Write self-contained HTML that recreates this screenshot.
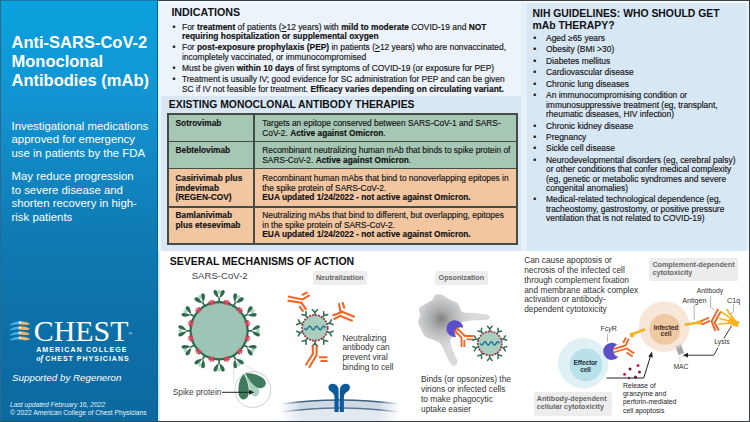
<!DOCTYPE html>
<html><head><meta charset="utf-8">
<style>
*{margin:0;padding:0;box-sizing:border-box}
html,body{width:750px;height:422px;overflow:hidden;background:#fff}
body{position:relative;font-family:"Liberation Sans",sans-serif;color:#1a1a1a}
.a{position:absolute}
#left{left:0;top:0;width:158px;height:422px;background:linear-gradient(180deg,#0aa2de 0%,#1393d1 25%,#0f7bb4 55%,#0d6ea6 80%,#0c699f 100%);color:#fff}
#frame{left:0;top:0;width:750px;height:422px;border:1px solid #3b4046;border-left-color:#2a6a8c}
.title{left:11.5px;top:32.5px;font-size:16.5px;font-weight:bold;line-height:19px;white-space:nowrap}
.body1{left:12px;font-size:11.4px;line-height:12.8px;white-space:nowrap}
#ind{left:158px;top:0;width:363px;height:96px;background:#edf3fa}
#ther{left:158px;top:96px;width:363px;height:155px;background:#d9e7f4}
#strip{left:158px;top:0;width:3px;height:251px;background:#e9f3fb}
#gap{left:521px;top:0;width:6px;height:251px;background:#e6f0f8}
#nih{left:527px;top:0;width:223px;height:251px;background:#d8e7f4}
.h{font-weight:bold;font-size:10.4px;white-space:nowrap;color:#111}
.bl{font-size:8.35px;line-height:9.9px;color:#151515;white-space:nowrap;-webkit-text-stroke:0.15px #151515}
.bl li{list-style:none;position:relative;padding-left:0}
.bl li:before{content:"\2022";position:absolute;left:-9.5px;top:0}
.bl li+li{margin-top:1px}
.nih li+li{margin-top:2.2px}
.ind li+li{margin-top:1.5px}
.nih li:before{left:-12.8px}
b{font-weight:bold;color:#111}
.ln{background:#444c48}
.tn,.td{font-size:8.35px;line-height:9.6px;white-space:nowrap;color:#151515;-webkit-text-stroke:0.15px #151515}
.tn{font-weight:bold;color:#151515}
#tbl{left:167.5px;top:113.5px;width:350px;border:1.6px solid #3c4340}
#tbl td{white-space:nowrap;border:1.3px solid #3c4340;vertical-align:top;font-size:8.35px;line-height:9.9px;padding:3px 4px 0 8px}
#tbl tr.g td{background:#a7c7b5}
#tbl tr.o td{background:#f1c6a1}
#tbl td.n{width:87px;font-weight:bold;color:#111}
.lbl{background:#ededed;border-radius:2px;color:#686868;font-weight:bold;font-size:7.2px;line-height:8.5px;white-space:nowrap}
.gt{font-size:8.35px;line-height:9.9px;color:#333;white-space:nowrap}
</style></head><body>
<div id="left" class="a">
  <div class="a title">Anti-SARS-CoV-2<br>Monoclonal<br>Antibodies (mAb)</div>
  <div class="a body1" style="top:120.2px;left:11.5px;line-height:13.2px">Investigational medications<br>approved for emergency<br>use in patients by the FDA</div>
  <div class="a body1" style="top:170.2px;left:11.5px;line-height:13.5px">May reduce progression<br>to severe disease and<br>shorten recovery in high-<br>risk patients</div>
  <svg class="a" style="left:0;top:0" width="158" height="422" viewBox="0 0 158 422">
    <g><path d="M9.3,325.3 C12,322.6 15.5,321.4 19,321.8 L19,324.2 C15.5,324.2 12,324.9 9.3,325.3Z" fill="#46b3ea"/><path d="M18.8,321.3 C23,321.0 27.5,321.8 30,323.9 C27.5,325.4 23,324.8 18.8,324.3Z" fill="#f2b66b"/><path d="M18.6,321.6 C19.8,321.5 20.8,322.0 21.4,322.9 C20.3,323.4 19.4,323.4 18.6,323.1Z" fill="#e8f6fc"/><path d="M9.3,330.4 C12,327.7 15.5,326.5 19,326.9 L19,329.3 C15.5,329.3 12,330.0 9.3,330.4Z" fill="#46b3ea"/><path d="M18.8,326.4 C23,326.1 27.5,326.9 30,329.0 C27.5,330.5 23,329.9 18.8,329.4Z" fill="#f2b66b"/><path d="M18.6,326.7 C19.8,326.6 20.8,327.1 21.4,328.0 C20.3,328.5 19.4,328.5 18.6,328.2Z" fill="#e8f6fc"/><path d="M9.3,335.5 C12,332.8 15.5,331.6 19,332.0 L19,334.4 C15.5,334.4 12,335.1 9.3,335.5Z" fill="#46b3ea"/><path d="M18.8,331.5 C23,331.2 27.5,332.0 30,334.1 C27.5,335.6 23,335.0 18.8,334.5Z" fill="#f2b66b"/><path d="M18.6,331.8 C19.8,331.7 20.8,332.2 21.4,333.1 C20.3,333.6 19.4,333.6 18.6,333.3Z" fill="#e8f6fc"/><path d="M9.3,340.6 C12,337.9 15.5,336.7 19,337.1 L19,339.5 C15.5,339.5 12,340.2 9.3,340.6Z" fill="#46b3ea"/><path d="M18.8,336.6 C23,336.3 27.5,337.1 30,339.2 C27.5,340.7 23,340.1 18.8,339.6Z" fill="#f2b66b"/><path d="M18.6,336.9 C19.8,336.8 20.8,337.3 21.4,338.2 C20.3,338.7 19.4,338.7 18.6,338.4Z" fill="#e8f6fc"/></g>
  </svg>
  <div class="a" style="left:33.8px;top:315.8px;font-family:'Liberation Serif',serif;font-size:29.9px;line-height:30px;white-space:nowrap">CHEST<span style="font-size:5px;vertical-align:top;position:relative;top:3px">&#174;</span></div>
  <div class="a" style="left:36.2px;top:346.2px;font-size:7px;font-weight:bold;line-height:8px;letter-spacing:1.12px;white-space:nowrap">AMERICAN COLLEGE</div>
  <div class="a" style="left:36.5px;top:355.2px;font-size:7px;font-weight:bold;line-height:8px;letter-spacing:1px;white-space:nowrap"><span style="font-family:'Liberation Serif',serif;font-style:italic;font-size:8px;letter-spacing:0">of </span>CHEST PHYSICIANS</div>
  <div class="a" style="left:12px;top:372px;font-size:9.8px;line-height:11px;font-style:italic;white-space:nowrap">Supported by Regeneron</div>
  <div class="a" style="left:10px;top:400.8px;font-size:6.7px;line-height:7.4px;font-style:italic;white-space:nowrap;color:#e8f2f8">Last updated February 16, 2022</div>
  <div class="a" style="left:10px;top:408.6px;font-size:6.7px;line-height:7.4px;white-space:nowrap;color:#e8f2f8">&#169; 2022 American College of Chest Physicians</div>
</div>
<div id="ind" class="a"></div>
<div id="ther" class="a"></div>
<div id="strip" class="a"></div><div class="a" style="left:158px;top:251px;width:2px;height:171px;background:#d3eef8"></div><div class="a" style="left:157px;top:0;width:1px;height:422px;background:#0b5f8f"></div>
<div id="gap" class="a"></div>
<div id="nih" class="a"></div><div class="a" style="left:746px;top:0;width:3px;height:251px;background:#e6eff7"></div><div class="a" style="left:158px;top:1px;width:591px;height:1.5px;background:#f6f9fc"></div>

<div class="a h" style="left:171.4px;top:5.9px;font-size:10.7px">INDICATIONS</div>
<ul class="a bl ind" style="left:182px;top:22.8px;width:335px;font-size:8.42px;line-height:9.6px">
<li>For <b>treatment</b> of patients (<u style="text-decoration-thickness:0.8px;text-underline-offset:0.5px">&gt;</u>12 years) with <b>mild to moderate</b> COVID-19 and <b>NOT<br>requiring hospitalization or supplemental oxygen</b></li>
<li>For <b>post-exposure prophylaxis (PEP)</b> in patients (<u style="text-decoration-thickness:0.8px;text-underline-offset:0.5px">&gt;</u>12 years) who are nonvaccinated,<br>incompletely vaccinated, or immunocompromised</li>
<li>Must be given <b>within 10 days</b> of first symptoms of COVID-19 (or exposure for PEP)</li>
<li>Treatment is usually IV; good evidence for SC administration for PEP and can be given<br>SC if IV not feasible for treatment. <b>Efficacy varies depending on circulating variant.</b></li>
</ul>

<div class="a h" style="left:168.8px;top:99px">EXISTING MONOCLONAL ANTIBODY THERAPIES</div>
<div class="a" style="left:167px;top:113px;width:351px;height:131.6px;background:#a7c7b5"></div>
<div class="a" style="left:167px;top:168px;width:351px;height:76.6px;background:#f1c6a1"></div>
<div class="a ln" style="left:167px;top:113px;width:351px;height:2px"></div>
<div class="a ln" style="left:167px;top:140.5px;width:351px;height:1.6px"></div>
<div class="a ln" style="left:167px;top:167.6px;width:351px;height:1.6px"></div>
<div class="a ln" style="left:167px;top:206px;width:351px;height:1.6px"></div>
<div class="a ln" style="left:167px;top:243px;width:351px;height:1.6px"></div>
<div class="a ln" style="left:167px;top:113px;width:1.6px;height:132px"></div>
<div class="a ln" style="left:253.4px;top:113px;width:1.6px;height:132px"></div>
<div class="a ln" style="left:516px;top:113px;width:1.6px;height:132px"></div>
<div class="a tn" style="left:175.5px;top:119px">Sotrovimab</div>
<div class="a tn" style="left:175.5px;top:146px">Bebtelovimab</div>
<div class="a tn" style="left:175.5px;top:174px">Casirivimab plus<br>imdevimab<br>(REGEN-COV)</div>
<div class="a tn" style="left:175.5px;top:211px">Bamlanivimab<br>plus etesevimab</div>
<div class="a td" style="left:262.3px;top:119px">Targets an epitope conserved between SARS-CoV-1 and SARS-<br>CoV-2. <b>Active against Omicron</b>.</div>
<div class="a td" style="left:262.3px;top:146px">Recombinant neutralizing human mAb that binds to spike protein of<br>SARS-CoV-2. <b>Active against Omicron</b>.</div>
<div class="a td" style="left:262.3px;top:174px">Recombinant human mAbs that bind to nonoverlapping epitopes in<br>the spike protein of SARS-CoV-2.<br><b>EUA updated 1/24/2022 - not active against Omicron.</b></div>
<div class="a td" style="left:262.3px;top:211px">Neutralizing mAbs that bind to different, but overlapping, epitopes<br>in the spike protein of SARS-CoV-2.<br><b>EUA updated 1/24/2022 - not active against Omicron.</b></div>

<div class="a h" style="left:532.5px;top:7.7px;line-height:12.3px">NIH GUIDELINES: WHO SHOULD GET<br>mAb THERAPY?</div>
<ul class="a bl nih" style="left:546px;top:34px;width:200px;font-size:8.45px;line-height:9.3px">
<li>Aged &#8805;65 years</li>
<li>Obesity (BMI &gt;30)</li>
<li>Diabetes mellitus</li>
<li>Cardiovascular disease</li>
<li>Chronic lung diseases</li>
<li>An immunocompromising condition or<br>immunosuppressive treatment (eg, transplant,<br>rheumatic diseases, HIV infection)</li>
<li>Chronic kidney disease</li>
<li>Pregnancy</li>
<li>Sickle cell disease</li>
<li>Neurodevelopmental disorders (eg, cerebral palsy)<br>or other conditions that confer medical complexity<br>(eg, genetic or metabolic syndromes and severe<br>congenital anomalies)</li>
<li>Medical-related technological dependence (eg,<br>tracheostomy, gastrostomy, or positive pressure<br>ventilation that is not related to COVID-19)</li>
</ul>

<div class="a h" style="left:169.8px;top:254.5px;font-size:10.5px">SEVERAL MECHANISMS OF ACTION</div>
<div class="a" style="left:191.7px;top:269.8px;font-size:9.6px;color:#444;white-space:nowrap">SARS-CoV-2</div>
<div class="a lbl" style="left:313px;top:270.5px;width:53.7px;height:14.3px;padding:3.3px 0 0 2.9px">Neutralization</div>
<div class="a gt" style="left:342.4px;top:333.5px">Neutralizing<br>antibody can<br>prevent viral<br>binding to cell</div>
<div class="a lbl" style="left:435.2px;top:271.2px;width:52.6px;height:14px;padding:3.2px 0 0 3.4px">Opsonization</div>
<div class="a gt" style="left:421px;top:374.8px">Binds (or opsonizes) the<br>virions or infected cells<br>to make phagocytic<br>uptake easier</div>
<div class="a gt" style="left:524.2px;top:255.8px">Can cause apoptosis or<br>necrosis of the infected cell<br>through complement fixation<br>and membrane attack complex<br>activation or antibody-<br>dependent cytotoxicity</div>
<div class="a lbl" style="left:648.8px;top:258.2px;width:89px;height:22.4px;padding:2.8px 0 0 3.6px">Complement-dependent<br>cytotoxicity</div>
<div class="a lbl" style="left:533.6px;top:391.6px;width:78.4px;height:24px;padding:3.2px 0 0 3.2px">Antibody-dependent<br>cellular cytotoxicity</div>

<svg class="a" style="left:0;top:0" width="750" height="422" viewBox="0 0 750 422">
<defs>
 <g id="spike">
  <path d="M0,-28 V-33" stroke="#2f6a4f" stroke-width="1.7"/>
  <circle cx="0" cy="-38.8" r="2.1" fill="#b3d9c5"/>
  <path d="M-0.4,-32.5 C-2.5,-34 -5.8,-36.5 -5.6,-39.2 C-5.4,-41.2 -3,-41.3 -2.2,-39.6 C-1.4,-37.6 -0.6,-35 -0.4,-32.5Z" fill="#2f6a4f"/>
  <path d="M0.4,-32.5 C2.5,-34 5.8,-36.5 5.6,-39.2 C5.4,-41.2 3,-41.3 2.2,-39.6 C1.4,-37.6 0.6,-35 0.4,-32.5Z" fill="#2f6a4f"/>
 </g>
 <g id="redf" fill="#d8455b">
  <circle cx="0" cy="-29" r="1.5"/><circle cx="-1.9" cy="-30.2" r="1.1"/><circle cx="1.9" cy="-30.2" r="1.1"/><circle cx="-1.6" cy="-27.6" r="1.1"/><circle cx="1.6" cy="-27.6" r="1.1"/><circle cx="0" cy="-31.3" r="0.9"/>
 </g>
 <g id="sspike" stroke="#357257" stroke-width="1.6" fill="none" stroke-linecap="round">
  <path d="M0,-13 V-15 M-2.4,-17.8 L0,-15 L2.4,-17.8"/>
 </g>
 <g id="ab" fill="none" stroke="#f26524" stroke-width="1.9">
  <path d="M-1.9,-9.5 V1 L-8.6,12.5"/>
  <path d="M1.9,-9.5 V2.5 L-5.2,14.3"/>
  <path d="M3.5,2.3 H12.7 M5.2,6.3 H12.7"/>
 </g>
 <radialGradient id="mg" gradientUnits="userSpaceOnUse" cx="441" cy="319" r="30">
  <stop offset="0" stop-color="#7f8183"/><stop offset="0.3" stop-color="#a9abad"/><stop offset="0.7" stop-color="#cbcdcf"/><stop offset="1" stop-color="#d9dadb"/>
 </radialGradient>
 <linearGradient id="memb" x1="0" y1="0" x2="1" y2="0">
  <stop offset="0" stop-color="#fff" stop-opacity="0"/><stop offset="0.18" stop-color="#fff" stop-opacity="1"/><stop offset="0.82" stop-color="#fff" stop-opacity="1"/><stop offset="1" stop-color="#fff" stop-opacity="0"/>
 </linearGradient>
 <mask id="mm"><rect x="280" y="380" width="120" height="42" fill="url(#memb)"/></mask>
</defs>
<!-- big virus -->
<circle cx="219.1" cy="330.8" r="28.6" fill="#9cc5b6" stroke="#2f6a4f" stroke-width="2.2"/>
<use href="#spike" transform="translate(219.1,330.8) rotate(0)"/>
<use href="#spike" transform="translate(219.1,330.8) rotate(30)"/>
<use href="#spike" transform="translate(219.1,330.8) rotate(60)"/>
<use href="#spike" transform="translate(219.1,330.8) rotate(90)"/>
<use href="#spike" transform="translate(219.1,330.8) rotate(120)"/>
<use href="#spike" transform="translate(219.1,330.8) rotate(150)"/>
<use href="#spike" transform="translate(219.1,330.8) rotate(180)"/>
<use href="#spike" transform="translate(219.1,330.8) rotate(210)"/>
<use href="#spike" transform="translate(219.1,330.8) rotate(240)"/>
<use href="#spike" transform="translate(219.1,330.8) rotate(270)"/>
<use href="#spike" transform="translate(219.1,330.8) rotate(300)"/>
<use href="#spike" transform="translate(219.1,330.8) rotate(330)"/>
<use href="#redf" transform="translate(219.1,330.8) rotate(15)"/>
<use href="#redf" transform="translate(219.1,330.8) rotate(45)"/>
<use href="#redf" transform="translate(219.1,330.8) rotate(75)"/>
<use href="#redf" transform="translate(219.1,330.8) rotate(105)"/>
<use href="#redf" transform="translate(219.1,330.8) rotate(135)"/>
<use href="#redf" transform="translate(219.1,330.8) rotate(165)"/>
<use href="#redf" transform="translate(219.1,330.8) rotate(195)"/>
<use href="#redf" transform="translate(219.1,330.8) rotate(225)"/>
<use href="#redf" transform="translate(219.1,330.8) rotate(255)"/>
<use href="#redf" transform="translate(219.1,330.8) rotate(285)"/>
<use href="#redf" transform="translate(219.1,330.8) rotate(315)"/>
<use href="#redf" transform="translate(219.1,330.8) rotate(345)"/>
<!-- spike protein inset -->
<path d="M233.7,363 V383" stroke="#aaa" stroke-width="0.8" stroke-dasharray="1 1.2" fill="none"/>
<path d="M241.6,364 L266,376" stroke="#bbb" stroke-width="0.8" stroke-dasharray="1 1.2" fill="none"/>
<circle cx="252.8" cy="389.6" r="17.9" fill="#fff" stroke="#c9c9c9" stroke-width="0.9"/>
<path d="M244.5,374.5 C249,380 254,385 257.5,387 C260,389 260,395.5 255.5,396.5 C252,397 250,392 249.5,388 C248.5,383 247,378 244.5,374.5Z" fill="#a6d1bb"/>
<path d="M245,373.5 C252,372.5 261.5,375.5 265,380.5 C267.5,385 263.5,389.5 258,387.8 C253.5,386 249,380.5 245,373.5Z" fill="#3f7b5d"/>
<path d="M244,374 C239,378 237.5,388 238.8,395 C240.3,400.2 245.2,400.8 247.6,397 C249.8,392 249.2,384 244,374Z" fill="#3f7b5d"/>
<text x="172.7" y="395" font-size="8.35" fill="#444">Spike protein</text>
<path d="M222,392.3 H250" stroke="#222" stroke-width="1"/>
<path d="M254.2,392.3 L249,389.8 L249,394.8Z" fill="#222"/>
<!-- neutralization -->
<circle cx="314.9" cy="327.9" r="12.8" fill="#a9cdbf" stroke="#a8364a" stroke-width="1.8" stroke-dasharray="2 1"/>
<use href="#sspike" transform="translate(314.9,327.9) rotate(0.0) scale(1.024)"/>
<use href="#sspike" transform="translate(314.9,327.9) rotate(36.0) scale(1.024)"/>
<use href="#sspike" transform="translate(314.9,327.9) rotate(72.0) scale(1.024)"/>
<use href="#sspike" transform="translate(314.9,327.9) rotate(108.0) scale(1.024)"/>
<use href="#sspike" transform="translate(314.9,327.9) rotate(144.0) scale(1.024)"/>
<use href="#sspike" transform="translate(314.9,327.9) rotate(180.0) scale(1.024)"/>
<use href="#sspike" transform="translate(314.9,327.9) rotate(216.0) scale(1.024)"/>
<use href="#sspike" transform="translate(314.9,327.9) rotate(252.0) scale(1.024)"/>
<use href="#sspike" transform="translate(314.9,327.9) rotate(288.0) scale(1.024)"/>
<use href="#sspike" transform="translate(314.9,327.9) rotate(324.0) scale(1.024)"/>
<polyline points="304.40,327.90 304.75,328.46 305.10,328.96 305.45,329.36 305.80,329.61 306.15,329.70 306.50,329.61 306.85,329.36 307.20,328.96 307.55,328.46 307.90,327.90 308.25,327.34 308.60,326.84 308.95,326.44 309.30,326.19 309.65,326.10 310.00,326.19 310.35,326.44 310.70,326.84 311.05,327.34 311.40,327.90 311.75,328.46 312.10,328.96 312.45,329.36 312.80,329.61 313.15,329.70 313.50,329.61 313.85,329.36 314.20,328.96 314.55,328.46 314.90,327.90 315.25,327.34 315.60,326.84 315.95,326.44 316.30,326.19 316.65,326.10 317.00,326.19 317.35,326.44 317.70,326.84 318.05,327.34 318.40,327.90 318.75,328.46 319.10,328.96 319.45,329.36 319.80,329.61 320.15,329.70 320.50,329.61 320.85,329.36 321.20,328.96 321.55,328.46 321.90,327.90 322.25,327.34 322.60,326.84 322.95,326.44 323.30,326.19 323.65,326.10 324.00,326.19 324.35,326.44 324.70,326.84 325.05,327.34 325.40,327.90" fill="none" stroke="#1f7394" stroke-width="1.4"/>
<g fill="none" stroke="#f26524" stroke-width="2.1" stroke-linecap="butt">
 <path d="M288,296.5 L302.5,299.5 L309.7,295.1 M301.8,295.1 L307.5,292.3 M287.6,300.6 L301.5,302.8 L306.5,309.8 M299.3,306.1 L303.3,311.5"/>
 <path d="M332.5,315.6 L340.6,312.5 L338.9,303.2 M342.4,302.1 L344.5,308.5 M340.9,311.3 L354.9,317 M333.5,319.2 L340.3,315.8 L352.7,321"/>
 <path d="M312.8,345.4 V354 L305.7,365.3 M316.6,345.4 V355 L309,367.7 M319,357.3 H327.5 M320.4,361 H327.5"/>
</g>
<!-- membrane -->
<g mask="url(#mm)">
 <path d="M282,404 Q339,396 398,404 V421 H282Z" fill="#e3e9f0"/>
 <path d="M282,405 Q339,397 398,405 L398,412 Q339,404 282,412Z" fill="#cfd9e5"/>
 <path d="M282,404 Q339,396 398,404" stroke="#3f5d7d" stroke-width="1.5" fill="none"/>
 <path d="M282,412 Q339,404 398,412" stroke="#5d7894" stroke-width="1.3" fill="none"/>
</g>
<g fill="#0d5a99"><path d="M334.5,412 V397.5 C334.5,394.5 333.2,393 331.2,391.8 C328.2,390 327.6,386.5 329.6,384.8 C332,382.8 336.8,383.6 338.2,387.8 C338.8,390 338.6,393.5 338.6,396.5 V412Z"/><path d="M343.9,412.0  V397.5  C343.9,394.5 345.2,393.0 347.2,391.8  C350.2,390.0 350.8,386.5 348.8,384.8  C346.4,382.8 341.6,383.6 340.2,387.8  C339.6,390.0 339.8,393.5 339.8,396.5  V412.0  Z"/></g>
<!-- opsonization macrophage -->
<path d="M438.2,294.1 C439.9,294.1 442.3,295.1 444.3,296.1 C446.3,297.1 448.1,298.9 450.3,300.1 C452.5,301.3 455.7,301.6 457.4,303.1 C459.1,304.6 459.4,307.7 460.4,309.2 C461.4,310.7 460.7,311.5 463.4,312.2 C466.1,312.9 472.5,312.8 476.5,313.2 C480.5,313.6 485.4,314.1 487.6,314.8 C489.8,315.6 489.8,316.9 489.6,317.7 C489.4,318.5 489.1,319.3 486.6,319.7 C484.1,320.1 477.9,320.0 474.5,320.3 C471.1,320.6 468.7,320.8 466.5,321.3 C464.3,321.8 463.1,321.0 461.4,323.3 C459.7,325.6 458.2,332.7 456.4,335.4 C454.5,338.1 450.8,336.7 450.3,339.4 C449.8,342.1 452.1,347.8 453.3,351.5 C454.5,355.2 457.0,359.2 457.4,361.6 C457.8,364.0 456.4,365.1 455.4,365.6 C454.4,366.1 453.0,366.6 451.3,364.6 C449.6,362.6 447.2,357.0 445.3,353.5 C443.4,350.0 442.4,345.9 440.2,343.5 C438.0,341.1 434.7,340.6 432.2,339.4 C429.7,338.2 427.0,338.1 425.1,336.4 C423.2,334.7 422.3,331.8 421.1,329.4 C419.9,327.0 418.3,324.7 418.1,322.3 C417.9,319.9 419.9,317.6 420.1,315.2 C420.3,312.8 418.3,310.0 419.1,308.2 C419.9,306.4 422.9,305.5 425.1,304.2 C427.3,302.9 430.7,301.5 432.2,300.1 C433.7,298.8 433.2,297.1 434.2,296.1 C435.2,295.1 436.5,294.1 438.2,294.1Z" fill="url(#mg)"/>
<path d="M463.16,327.77 A8.4,8.4 0 1 0 456.01,336.91 A6.0,6.0 0 0 1 463.16,327.77Z" fill="#5a4fcb"/>
<g fill="none" stroke="#f26524" stroke-width="1.8">
 <path d="M456.5,328 L465,336 H473.5 M454.5,330.5 L461.5,337.5 V347 M466.5,339.3 H473.5 M464.3,340 V347"/>
</g>
<circle cx="489.8" cy="343.4" r="12" fill="#a9cdbf" stroke="#a8364a" stroke-width="1.8" stroke-dasharray="2 1"/>
<use href="#sspike" transform="translate(489.8,343.4) rotate(0.0) scale(0.960)"/>
<use href="#sspike" transform="translate(489.8,343.4) rotate(36.0) scale(0.960)"/>
<use href="#sspike" transform="translate(489.8,343.4) rotate(72.0) scale(0.960)"/>
<use href="#sspike" transform="translate(489.8,343.4) rotate(108.0) scale(0.960)"/>
<use href="#sspike" transform="translate(489.8,343.4) rotate(144.0) scale(0.960)"/>
<use href="#sspike" transform="translate(489.8,343.4) rotate(180.0) scale(0.960)"/>
<use href="#sspike" transform="translate(489.8,343.4) rotate(216.0) scale(0.960)"/>
<use href="#sspike" transform="translate(489.8,343.4) rotate(252.0) scale(0.960)"/>
<use href="#sspike" transform="translate(489.8,343.4) rotate(288.0) scale(0.960)"/>
<use href="#sspike" transform="translate(489.8,343.4) rotate(324.0) scale(0.960)"/>
<polyline points="480.30,343.40 480.62,343.89 480.93,344.34 481.25,344.69 481.57,344.92 481.88,345.00 482.20,344.92 482.52,344.69 482.83,344.34 483.15,343.89 483.47,343.40 483.78,342.91 484.10,342.46 484.42,342.11 484.73,341.88 485.05,341.80 485.37,341.88 485.68,342.11 486.00,342.46 486.32,342.91 486.63,343.40 486.95,343.89 487.27,344.34 487.58,344.69 487.90,344.92 488.22,345.00 488.53,344.92 488.85,344.69 489.17,344.34 489.48,343.89 489.80,343.40 490.12,342.91 490.43,342.46 490.75,342.11 491.07,341.88 491.38,341.80 491.70,341.88 492.02,342.11 492.33,342.46 492.65,342.91 492.97,343.40 493.28,343.89 493.60,344.34 493.92,344.69 494.23,344.92 494.55,345.00 494.87,344.92 495.18,344.69 495.50,344.34 495.82,343.89 496.13,343.40 496.45,342.91 496.77,342.46 497.08,342.11 497.40,341.88 497.72,341.80 498.03,341.88 498.35,342.11 498.67,342.46 498.98,342.91 499.30,343.40" fill="none" stroke="#1f7394" stroke-width="1.4"/>
<!-- ADCC -->
<circle cx="583.2" cy="363.3" r="25.2" fill="#e0f1f6"/>
<circle cx="586" cy="365" r="16.4" fill="#b8e1ea"/>
<text x="585.4" y="364.9" font-size="6.7" font-weight="bold" fill="#22343c" text-anchor="middle" letter-spacing="-0.2">Effector</text>
<text x="585.4" y="371.8" font-size="6.7" font-weight="bold" fill="#22343c" text-anchor="middle" letter-spacing="-0.2">cell</text>
<circle cx="664.3" cy="326.6" r="25.4" fill="#f8e6d8"/>
<circle cx="664.8" cy="329.4" r="15.4" fill="#efc8a4"/>
<text x="666" y="329.7" font-size="6.6" font-weight="bold" fill="#3f2c1c" text-anchor="middle" letter-spacing="-0.1">Infected</text>
<text x="666" y="336.3" font-size="6.6" font-weight="bold" fill="#3f2c1c" text-anchor="middle">cell</text>
<path d="M645,329.3 L631.5,334.5" stroke="#f5b31f" stroke-width="2.6"/>
<circle cx="632" cy="335" r="2.4" fill="#f5b31f"/>
<path d="M617.43,344.80 A8.6,8.6 0 1 0 618.47,356.72 A6.2,6.2 0 0 1 617.43,344.80Z" fill="#5b50c9"/>
<g fill="none" stroke="#f26524" stroke-width="1.8">
 <path d="M613.3,349.2 L625.6,345.4 L628.8,338.6 M613.3,352.5 L627,348.5 L634.1,353.5 M623.2,343 L626,337.3 M626.5,352.5 L632.7,356.5"/>
</g>
<text x="600.4" y="331.3" font-size="7" fill="#333">Fc<tspan font-style="italic">γ</tspan>R</text>
<path d="M607.5,334 V342" stroke="#999" stroke-width="0.7"/>
<g fill="#9b1e3e">
 <circle cx="624.6" cy="374.3" r="1.5" fill="#cf2040"/><circle cx="630" cy="369" r="1.5" fill="#6a1433"/><circle cx="635.5" cy="377" r="1.5" fill="#6a1433"/><circle cx="638" cy="365.5" r="1.5" fill="#cf2040"/><circle cx="639.5" cy="372" r="1.5" fill="#8a1537"/><circle cx="629" cy="378" r="1.2" fill="#cf2040"/>
</g>
<path d="M606.4,378 H643.7 L650.6,356" stroke="#222" stroke-width="1" fill="none"/>
<path d="M652,351.5 L648.2,356.6 L652.8,357.6Z" fill="#222"/>
<text x="623.1" y="387.6" font-size="6.8" fill="#222">Release of</text>
<text x="623.1" y="395.9" font-size="6.8" fill="#222">granzyme and</text>
<text x="623.1" y="404.2" font-size="6.8" fill="#222">perforin-mediated</text>
<text x="623.1" y="412.5" font-size="6.8" fill="#222">cell apoptosis</text>
<!-- CDC -->
<path d="M684.7,324.8 L702,322" stroke="#f5b31f" stroke-width="2.6"/>
<circle cx="699.5" cy="322.5" r="2.3" fill="#f5b31f"/>
<g fill="none" stroke="#f26524" stroke-width="1.9">
 <path d="M700.7,321.3 L709.2,317.5 M701.5,324.6 L710,320.8 M718.2,309 L711.6,321.3 L715.4,330.8 M720.8,311.5 L714.6,322.5 L718.8,330.5"/>
</g>
<g stroke="#f5b31f" stroke-width="1.5" fill="none" stroke-linecap="round">
 <path d="M736.7,322.7 L720.6,311.4 M736.7,322.7 L726.8,309.5 M736.7,322.7 L729,313.3 M736.7,322.7 L719.5,318.5 M736.7,322.7 L718.5,324"/>
</g>
<path d="M729,318.5 L739.8,321.8 L737.2,327.3 L727.5,323.5Z" fill="#f5b31f"/>
<text x="696.7" y="293" font-size="6.8" fill="#333">Antibody</text>
<text x="682.3" y="302.5" font-size="7.1" fill="#333">Antigen</text>
<text x="727" y="302.5" font-size="7.2" fill="#333">C1q</text>
<path d="M694.2,305 V320 M710.6,296 V307.1 L714.4,310 M733.4,304 V311.8 L730.3,314.2" stroke="#8a9099" stroke-width="0.7" fill="none"/>
<path d="M731.5,326 L723.9,338.4" stroke="#222" stroke-width="0.9"/>
<text x="714.2" y="344.2" font-size="6.9" fill="#333">Lysis</text>
<path d="M718,347.6 L713.8,355.2 H687" stroke="#222" stroke-width="0.9" fill="none"/>
<path d="M682.8,355.2 L688,352.8 L688,357.6Z" fill="#222"/>
<path d="M675.5,346.5 L681,344.5 L684,353 L678.5,355Z" fill="#a3a5a7"/><path d="M675.5,346.5 L681,344.5 L681.8,346.8 L676.3,348.8Z" fill="#c4c6c8"/>
<text x="673.4" y="369.4" font-size="6.8" fill="#333">MAC</text>
<path d="M680,356 V362" stroke="#aaa" stroke-width="0.6"/>
</svg>
<div id="frame" class="a"></div><div class="a" style="left:0;top:0;width:158px;height:1px;background:#1d78a3"></div><div class="a" style="left:0;top:421px;width:158px;height:1px;background:#2d4f66"></div>
</body></html>
